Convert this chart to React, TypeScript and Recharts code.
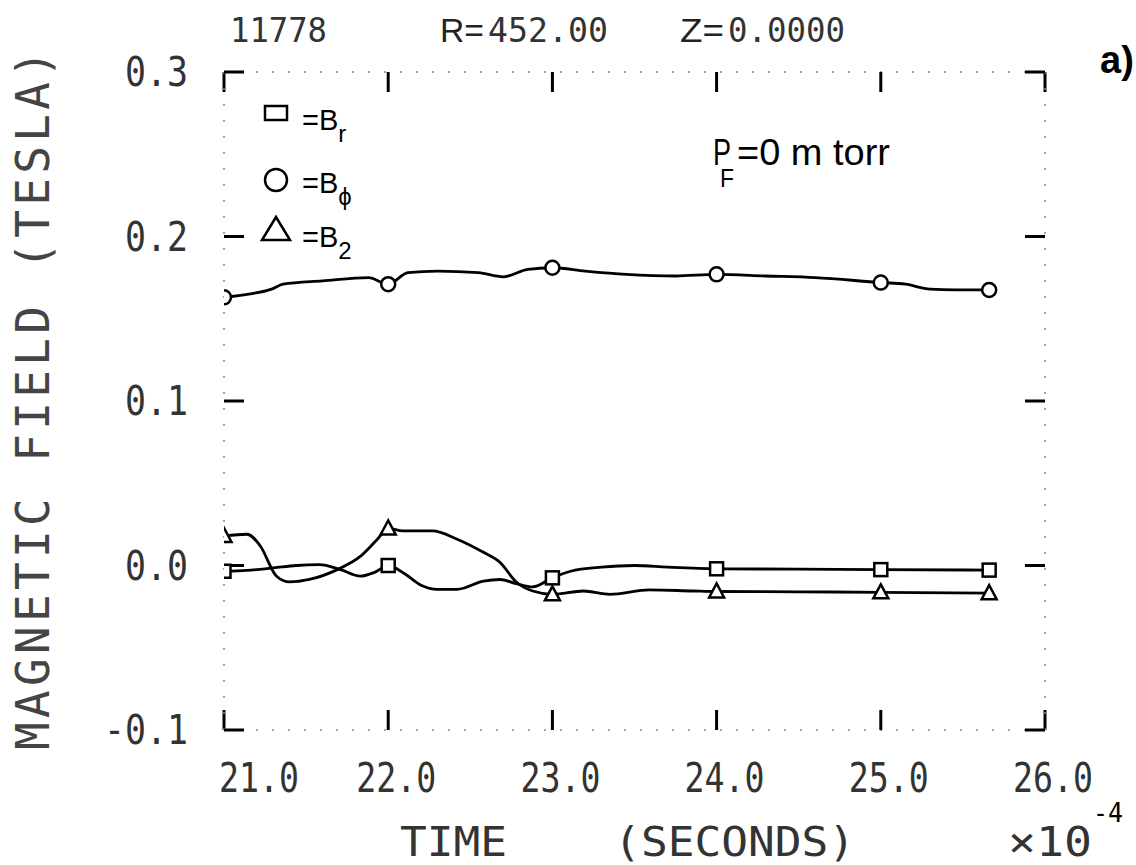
import { ComposedChart, Line, Scatter, XAxis, YAxis } from 'recharts';

// marker positions (time in units of 1e-4 s)
const markerTimes = [21.0, 22.0, 23.0, 24.0, 25.0, 25.66];
const brMarkers = [-0.0035, 0.0, -0.0075, -0.002, -0.0025, -0.0028];
const bphiMarkers = [0.163, 0.171, 0.181, 0.177, 0.172, 0.1675];
const bzMarkers = [0.018, 0.0225, -0.0175, -0.0158, -0.0163, -0.0168];

// traced curves between markers
const brTimes = [21.0, 21.14, 21.3, 21.44, 21.58, 21.71, 21.83, 21.92, 22.0, 22.1, 22.2, 22.3, 22.42, 22.58, 22.68, 22.78, 22.88, 23.0, 23.11, 23.3, 23.5, 23.7, 24.0, 24.5, 25.0, 25.66];
const brValues = [-0.0035, -0.003, -0.0015, 0.0, 0.0005, -0.0025, -0.0065, -0.004, 0.0, -0.005, -0.012, -0.0145, -0.0145, -0.0095, -0.0085, -0.011, -0.013, -0.0075, -0.0035, -0.001, 0.0, -0.001, -0.002, -0.0022, -0.0025, -0.0028];

const bphiTimes = [21.0, 21.15, 21.29, 21.36, 21.6, 21.88, 22.0, 22.12, 22.3, 22.55, 22.7, 22.85, 23.0, 23.2, 23.45, 23.75, 24.0, 24.3, 24.6, 25.0, 25.15, 25.3, 25.45, 25.66];
const bphiValues = [0.163, 0.165, 0.168, 0.171, 0.173, 0.175, 0.171, 0.178, 0.179, 0.178, 0.1755, 0.18, 0.181, 0.179, 0.177, 0.176, 0.177, 0.176, 0.175, 0.172, 0.171, 0.168, 0.1675, 0.1675];

const bzTimes = [21.0, 21.14, 21.22, 21.32, 21.4, 21.52, 21.69, 21.83, 21.93, 22.0, 22.09, 22.27, 22.42, 22.58, 22.68, 22.78, 22.88, 23.0, 23.19, 23.35, 23.59, 23.86, 24.0, 24.5, 25.0, 25.66];
const bzValues = [0.018, 0.019, 0.012, -0.0065, -0.01, -0.0085, -0.0025, 0.0055, 0.0155, 0.0225, 0.021, 0.021, 0.016, 0.008, 0.002, -0.01, -0.0155, -0.0175, -0.0155, -0.0175, -0.0148, -0.0155, -0.0158, -0.016, -0.0163, -0.0168];

const xTicks = [21, 22, 23, 24, 25, 26];
const yTicks = [-0.1, 0.0, 0.1, 0.2, 0.3];

const legendItems = [
  { shape: 'square', base: 'B', sub: 'r' },
  { shape: 'circle', base: 'B', sub: 'ϕ' },
  { shape: 'triangle', base: 'B', sub: '2' },
];

const toPoints = (ts: number[], vs: number[]) => ts.map((t, i) => ({ t, v: vs[i] }));

const brLine = toPoints(brTimes, brValues);
const bphiLine = toPoints(bphiTimes, bphiValues);
const bzLine = toPoints(bzTimes, bzValues);
const brDots = toPoints(markerTimes, brMarkers);
const bphiDots = toPoints(markerTimes, bphiMarkers);
const bzDots = toPoints(markerTimes, bzMarkers);

const MONO = '"DejaVu Sans Mono", monospace';
const SANS = '"Liberation Sans", Arial, sans-serif';

const SquareDot = (p: any) => (
  <rect x={p.cx - 6.5} y={p.cy - 6.5} width={13} height={13} fill="#fff" stroke="#000" strokeWidth={2.5} />
);
const CircleDot = (p: any) => <circle cx={p.cx} cy={p.cy} r={7} fill="#fff" stroke="#000" strokeWidth={2.5} />;
const TriangleDot = (p: any) => (
  <polygon
    points={`${p.cx},${p.cy - 8} ${p.cx - 7.5},${p.cy + 6} ${p.cx + 7.5},${p.cy + 6}`}
    fill="#fff"
    stroke="#000"
    strokeWidth={2.5}
  />
);

const NoTick = () => <g />;

// the first label sits to the right of the corner bracket
const XTickLabel = (props: any) => {
  const { x, y, payload } = props;
  const shift = payload.value === 21 ? 35 : 8;
  return (
    <text
      x={x + shift}
      y={y}
      textAnchor="middle"
      dominantBaseline="central"
      fontFamily={MONO}
      fontSize={40}
      textLength={80}
      lengthAdjust="spacingAndGlyphs"
      fill="#333"
    >
      {payload.value.toFixed(1)}
    </text>
  );
};

const YTickLabel = (props: any) => {
  const { x, y, payload } = props;
  const label = payload.value.toFixed(1);
  return (
    <text
      x={x}
      y={y}
      textAnchor="end"
      dominantBaseline="central"
      fontFamily={MONO}
      fontSize={40}
      textLength={label.length * 21}
      lengthAdjust="spacingAndGlyphs"
      fill="#333"
    >
      {label}
    </text>
  );
};

const legendIcon = (shape: string, cx: number, cy: number) => {
  if (shape === 'square') return <rect x={cx - 11} y={cy - 7} width={22} height={14} fill="none" stroke="#000" strokeWidth={2.5} />;
  if (shape === 'circle') return <circle cx={cx} cy={cy} r={11} fill="none" stroke="#000" strokeWidth={2.5} />;
  return <polygon points={`${cx},${cy - 12} ${cx - 14},${cy + 11} ${cx + 14},${cy + 11}`} fill="none" stroke="#000" strokeWidth={2.5} />;
};

const legendIconY = [113, 180, 229];
const legendBaseY = [130, 193, 247];

const frameLine = { stroke: '#888', strokeWidth: 1.5, strokeDasharray: '2 14' };
const tickMark = { stroke: '#000', strokeWidth: 3 };

export default function App() {
  return (
    <div style={{ position: 'absolute', left: 0, top: 0, width: 1136, height: 865, background: '#fff' }}>
      <ComposedChart width={1136} height={865} margin={{ top: 71, right: 90, bottom: 0, left: 0 }}>
        <XAxis
          xAxisId="bottom"
          dataKey="t"
          type="number"
          domain={[21, 26]}
          ticks={xTicks}
          allowDataOverflow
          orientation="bottom"
          height={135}
          tickSize={-20}
          tickMargin={68}
          axisLine={frameLine}
          tickLine={tickMark}
          tick={<XTickLabel />}
        />
        <XAxis
          xAxisId="top"
          dataKey="t"
          type="number"
          domain={[21, 26]}
          ticks={xTicks}
          allowDataOverflow
          orientation="top"
          height={1}
          tickSize={-20}
          axisLine={frameLine}
          tickLine={tickMark}
          tick={<NoTick />}
        />
        <YAxis
          yAxisId="left"
          type="number"
          domain={[-0.1, 0.3]}
          ticks={yTicks}
          allowDataOverflow
          orientation="left"
          width={224}
          tickSize={-20}
          tickMargin={56}
          axisLine={frameLine}
          tickLine={tickMark}
          tick={<YTickLabel />}
        />
        <YAxis
          yAxisId="right"
          type="number"
          domain={[-0.1, 0.3]}
          ticks={yTicks}
          allowDataOverflow
          orientation="right"
          width={1}
          tickSize={-20}
          axisLine={frameLine}
          tickLine={tickMark}
          tick={<NoTick />}
        />
        <Line xAxisId="bottom" yAxisId="left" data={bphiLine} dataKey="v" type="monotone" stroke="#000" strokeWidth={2.8} dot={false} isAnimationActive={false} />
        <Line xAxisId="bottom" yAxisId="left" data={brLine} dataKey="v" type="monotone" stroke="#000" strokeWidth={2.8} dot={false} isAnimationActive={false} />
        <Line xAxisId="bottom" yAxisId="left" data={bzLine} dataKey="v" type="monotone" stroke="#000" strokeWidth={2.8} dot={false} isAnimationActive={false} />
        <Scatter xAxisId="bottom" yAxisId="left" data={bphiDots} dataKey="v" shape={CircleDot} isAnimationActive={false} />
        <Scatter xAxisId="bottom" yAxisId="left" data={brDots} dataKey="v" shape={SquareDot} isAnimationActive={false} />
        <Scatter xAxisId="bottom" yAxisId="left" data={bzDots} dataKey="v" shape={TriangleDot} isAnimationActive={false} />
      </ComposedChart>
      <svg width={1136} height={865} style={{ position: 'absolute', left: 0, top: 0, pointerEvents: 'none' }}>
        <text x={230} y={42} fontFamily={MONO} fontSize={34} textLength={97} lengthAdjust="spacingAndGlyphs" fill="#333">11778</text>
        <text x={440} y={42} fontFamily={SANS} fontSize={34} textLength={44} lengthAdjust="spacingAndGlyphs" fill="#222">R=</text>
        <text x={488} y={42} fontFamily={MONO} fontSize={34} textLength={120} lengthAdjust="spacingAndGlyphs" fill="#333">452.00</text>
        <text x={680} y={42} fontFamily={SANS} fontSize={34} textLength={44} lengthAdjust="spacingAndGlyphs" fill="#222">Z=</text>
        <text x={728} y={42} fontFamily={MONO} fontSize={34} textLength={117} lengthAdjust="spacingAndGlyphs" fill="#333">0.0000</text>
        <text x={1100} y={73} fontFamily={SANS} fontSize={38} fontWeight="bold" fill="#000">a)</text>
        {legendItems.map((it, i) => (
          <g key={it.sub}>
            {legendIcon(it.shape, 276, legendIconY[i])}
            <text x={302} y={legendBaseY[i]} fontFamily={SANS} fontSize={29} fill="#000">
              =B
              <tspan fontSize={24} dy={12}>{it.sub}</tspan>
            </text>
          </g>
        ))}
        <text x={713} y={165} fontFamily={SANS} fontSize={37} textLength={18} lengthAdjust="spacingAndGlyphs" fill="#000">P</text>
        <text x={720} y={187} fontFamily={SANS} fontSize={25} textLength={14} lengthAdjust="spacingAndGlyphs" fill="#000">F</text>
        <text x={737} y={165} fontFamily={SANS} fontSize={37} textLength={153} lengthAdjust="spacingAndGlyphs" fill="#000">=0 m torr</text>
        <text
          transform="translate(33, 400) rotate(-90)"
          textAnchor="middle"
          dominantBaseline="central"
          fontFamily={MONO}
          fontSize={46}
          textLength={700}
          lengthAdjust="spacing"
          fill="#444"
        >
          MAGNETIC FIELD (TESLA)
        </text>
        <text x={400} y={856} fontFamily={MONO} fontSize={40} textLength={455} lengthAdjust="spacingAndGlyphs" fill="#333" style={{ whiteSpace: 'pre' }}>
          TIME    (SECONDS)
        </text>
        <text x={1008} y={856} fontFamily={MONO} fontSize={40} textLength={84} lengthAdjust="spacingAndGlyphs" fill="#333">×10</text>
        <text x={1093} y={822} fontFamily={MONO} fontSize={26} textLength={30} lengthAdjust="spacingAndGlyphs" fill="#000">-4</text>
      </svg>
    </div>
  );
}
